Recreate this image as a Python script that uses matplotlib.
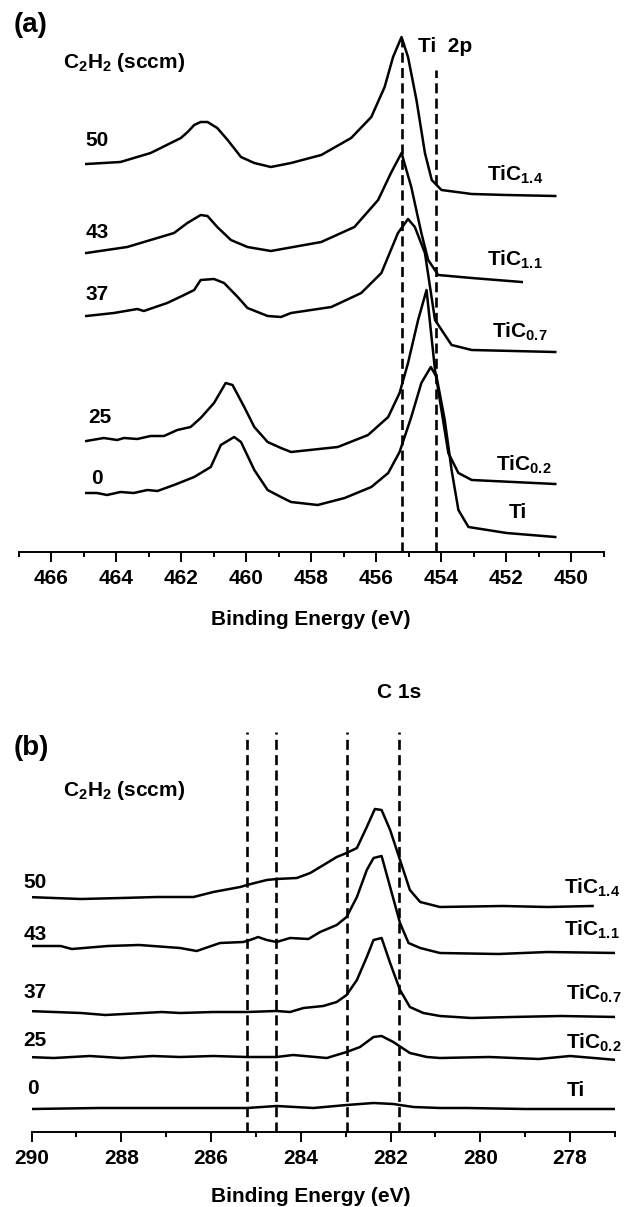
import matplotlib
matplotlib.use("Agg")
import matplotlib.pyplot as plt
from matplotlib.ticker import MultipleLocator

plt.rcParams['font.family'] = ['Liberation Sans', 'DejaVu Sans']
plt.rcParams['font.weight'] = 'bold'
plt.rcParams['mathtext.fontset'] = 'custom'
plt.rcParams['mathtext.rm'] = 'Liberation Sans:bold'
plt.rcParams['mathtext.bf'] = 'Liberation Sans:bold'

# --- (a) Ti 2p, stacked spectra (arb. units, offset included) ---
a_ev_50 = [464.93, 463.88, 462.95, 462.33, 462.02, 461.81, 461.61, 461.41, 461.2, 460.9, 460.58,
           460.17, 459.76, 459.25, 458.63, 457.7, 456.78, 456.16, 455.75, 455.49, 455.23,
           455.03, 454.77, 454.51, 454.3, 454.0, 453.07, 452.0, 450.5]
a_in_50 = [388, 390, 399, 409, 414, 420, 427, 430, 430, 424, 412,
           395, 389, 385, 389, 397, 414, 435, 465, 495, 515,
           495, 452, 399, 372, 362, 358, 357, 356]

a_ev_43 = [464.93, 463.67, 462.95, 462.23, 461.82, 461.41, 461.2, 460.9, 460.48, 459.97, 459.25,
           457.7, 456.68, 455.95, 455.54, 455.23, 454.93, 454.62, 454.41, 454.1, 453.07, 451.53]
a_in_43 = [299, 305, 312, 319, 329, 337, 336, 325, 312, 305, 301,
           310, 325, 352, 380, 399, 365, 319, 292, 277, 274, 270]

a_ev_37 = [464.93, 464.08, 463.36, 463.16, 462.44, 461.92, 461.61, 461.41, 461.0, 460.69, 460.27,
           459.97, 459.35, 458.94, 458.63, 457.39, 456.47, 455.85, 455.34, 455.03, 454.82,
           454.51, 454.2, 453.69, 453.07, 450.5]
a_in_37 = [236, 239, 243, 241, 249, 257, 262, 272, 273, 269, 255,
           244, 236, 235, 239, 245, 259, 279, 319, 333, 325,
           299, 232, 207, 202, 200]

a_ev_25 = [464.93, 464.39, 463.98, 463.77, 463.36, 462.95, 462.54, 462.13, 461.72, 461.41, 461.0,
           460.64, 460.43, 460.07, 459.76, 459.35, 458.94, 458.63, 457.19, 456.26, 455.64, 455.29,
           455.03, 454.72, 454.46, 454.2, 453.79, 453.48, 453.07, 450.5]
a_in_25 = [111, 114, 112, 114, 113, 116, 116, 122, 125, 134, 149,
           169, 167, 145, 125, 110, 104, 100, 105, 117, 135, 159,
           189, 232, 262, 182, 99, 79, 72, 68]

a_ev_0 = [464.93, 464.6, 464.29, 463.88, 463.47, 463.05, 462.74, 462.23, 461.61, 461.1, 460.79,
          460.38, 460.17, 459.76, 459.35, 458.94, 458.63, 457.81, 456.98, 456.16, 455.64, 455.29,
          454.93, 454.62, 454.33, 454.15, 453.9, 453.69, 453.48, 453.17, 452.0, 450.5]
a_in_0 = [59, 59, 57, 60, 59, 62, 61, 67, 75, 85, 107,
          115, 110, 82, 62, 55, 50, 47, 54, 65, 79, 100,
          135, 169, 185, 175, 132, 82, 42, 25, 19, 15]

a_flows = ["50", "43", "37", "25", "0"]
a_phases = ["TiC$_{1.4}$", "TiC$_{1.1}$", "TiC$_{0.7}$", "TiC$_{0.2}$", "Ti"]
a_refs = [455.2, 454.17]

# --- (b) C 1s ---
b_ev_50 = [290.1, 289.5, 288.9, 288.0, 287.2, 286.69, 286.39, 285.95, 285.35, 285.2, 284.76,
           284.54, 284.09, 283.79, 283.42, 283.2, 282.98, 282.75, 282.53, 282.35, 282.2, 282.01,
           281.79, 281.57, 281.34, 280.9, 279.5, 278.5, 277.5]
b_in_50 = [235, 234, 233, 234, 235, 235, 235, 240, 245, 247, 252,
           253, 254, 259, 269, 275, 279, 284, 305, 323, 322, 302,
           272, 242, 230, 225, 226, 225, 226]

b_ev_43 = [290.1, 289.35, 289.1, 288.3, 287.6, 286.69, 286.32, 285.8, 285.28, 285.13, 284.95,
           284.76, 284.54, 284.24, 283.83, 283.57, 283.2, 282.98, 282.75, 282.53, 282.38, 282.2,
           282.01, 281.79, 281.6, 281.34, 280.9, 279.6, 278.5, 276.95]
b_in_43 = [186, 186, 183, 186, 187, 184, 181, 189, 190, 192, 195,
           192, 190, 194, 193, 200, 207, 215, 235, 262, 274, 276,
           245, 209, 189, 184, 179, 178, 180, 179]

b_ev_37 = [290.1, 288.9, 288.35, 287.1, 286.69, 285.95, 285.2, 284.54, 284.24, 283.94, 283.5,
           283.2, 282.98, 282.75, 282.53, 282.38, 282.2, 282.01, 281.79, 281.57, 281.27, 280.9,
           280.2, 279.3, 278.2, 276.95]
b_in_37 = [121, 119, 117, 120, 119, 120, 120, 121, 120, 124, 126,
           130, 137, 152, 175, 192, 194, 169, 142, 125, 119, 116,
           114, 115, 116, 115]

b_ev_25 = [290.1, 289.5, 288.7, 288.0, 287.3, 286.69, 285.95, 285.2, 284.54, 284.17, 283.42,
           282.98, 282.68, 282.38, 282.2, 281.94, 281.57, 281.19, 280.9, 279.8, 278.7, 278.0, 276.95]
b_in_25 = [75, 74, 76, 74, 76, 75, 76, 75, 75, 77, 74,
           80, 85, 95, 96, 90, 79, 75, 74, 75, 73, 76, 72]

b_ev_0 = [290.0, 288.5, 286.69, 285.2, 284.54, 283.72, 282.98, 282.38, 281.94, 281.49, 280.9,
          280.3, 279.0, 277.0]
b_in_0 = [23, 24, 24, 24, 26, 24, 27, 29, 28, 25, 24, 24, 23, 23]

b_flows = ["50", "43", "37", "25", "0"]
b_phases = ["TiC$_{1.4}$", "TiC$_{1.1}$", "TiC$_{0.7}$", "TiC$_{0.2}$", "Ti"]
b_refs = [285.2, 284.55, 282.97, 281.82]

W, H = 627, 1207
fig = plt.figure(figsize=(W / 100, H / 100), dpi=100)


def px(x, y):
    # pixel position -> figure fraction
    return x / W, 1 - y / H


def style_axis(ax, xlim, ylim):
    ax.set_xlim(*xlim)
    ax.set_ylim(*ylim)
    for s in ["left", "right", "top"]:
        ax.spines[s].set_visible(False)
    ax.spines["bottom"].set_linewidth(1.4)
    ax.set_yticks([])
    ax.xaxis.set_major_locator(MultipleLocator(2))
    ax.xaxis.set_minor_locator(MultipleLocator(1))
    ax.tick_params(axis="x", which="major", length=7.2, width=1.4, labelsize=15, pad=5)
    ax.tick_params(axis="x", which="minor", length=3.6, width=1.4)
    for t in ax.get_xticklabels():
        t.set_fontweight("bold")
    ax.patch.set_alpha(0)


lw = 1.8
dash = (0, (3.8, 2.0))
dlw = 1.9
fs = 15

# panel (a): axis line at y=552 px, x 19..604 px
axa = fig.add_axes([19 / W, 1 - 552 / H, 585 / W, 532 / H])
style_axis(axa, (467, 449), (0, 532))
for ev, it in [(a_ev_50, a_in_50), (a_ev_43, a_in_43), (a_ev_37, a_in_37),
               (a_ev_25, a_in_25), (a_ev_0, a_in_0)]:
    axa.plot(ev, it, color="black", lw=lw)
axa.plot([a_refs[0]] * 2, [0, 512], color="black", lw=dlw, linestyle=dash)
axa.plot([a_refs[1]] * 2, [0, 482], color="black", lw=dlw, linestyle=dash)
fig.text(*px(311, 625), "Binding Energy (eV)", fontsize=fs, ha="center", va="baseline", fontweight="bold")

for lab, (x, y) in zip(a_flows, [(97, 140), (97, 233), (97, 295), (100, 418), (97, 478)]):
    fig.text(*px(x, y), lab, fontsize=fs, ha="center", va="center", fontweight="bold")
for lab, (x, y) in zip(a_phases, [(515, 175), (515, 260), (520, 332), (524, 465), (518, 513)]):
    fig.text(*px(x, y), lab, fontsize=fs, ha="center", va="center", fontweight="bold")
fig.text(*px(63, 63), "C$_2$H$_2$ (sccm)", fontsize=fs, ha="left", va="center", fontweight="bold")
fig.text(*px(418, 47), "Ti  2p", fontsize=fs, ha="left", va="center", fontweight="bold")
fig.text(*px(14, 25), "(a)", fontsize=20, ha="left", va="center", fontweight="bold")

# panel (b): axis line at y=1132 px, x 31.5..615 px
axb = fig.add_axes([31.5 / W, 1 - 1132 / H, 583.5 / W, 432 / H])
style_axis(axb, (290, 277), (0, 432))
for ev, it in [(b_ev_50, b_in_50), (b_ev_43, b_in_43), (b_ev_37, b_in_37),
               (b_ev_25, b_in_25), (b_ev_0, b_in_0)]:
    axb.plot(ev, it, color="black", lw=lw)
for r in b_refs:
    axb.plot([r, r], [0, 400], color="black", lw=dlw, linestyle=dash)
fig.text(*px(311, 1202), "Binding Energy (eV)", fontsize=fs, ha="center", va="baseline", fontweight="bold")

for lab, (x, y) in zip(b_flows, [(35, 883), (35, 935), (35, 992), (35, 1040), (33, 1088)]):
    fig.text(*px(x, y), lab, fontsize=fs, ha="center", va="center", fontweight="bold")
for lab, (x, y) in zip(b_phases, [(592, 888), (592, 930), (594, 994), (594, 1043), (576, 1090)]):
    fig.text(*px(x, y), lab, fontsize=fs, ha="center", va="center", fontweight="bold")
fig.text(*px(63, 790), "C$_2$H$_2$ (sccm)", fontsize=fs, ha="left", va="center", fontweight="bold")
fig.text(*px(399, 692), "C 1s", fontsize=fs, ha="center", va="center", fontweight="bold")
fig.text(*px(14, 748), "(b)", fontsize=20, ha="left", va="center", fontweight="bold")

fig.savefig("out.png", dpi=100, facecolor="white")
